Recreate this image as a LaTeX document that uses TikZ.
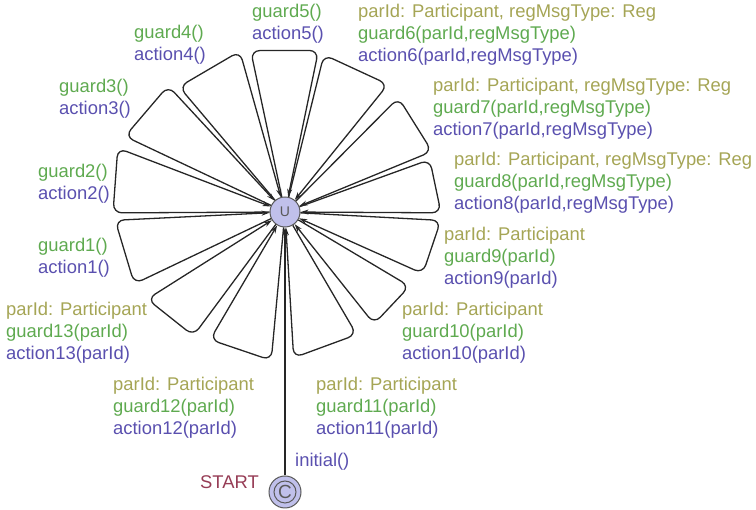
\documentclass[tikz,border=0pt]{standalone}
\usepackage{fontspec}
\setmainfont{Liberation Sans}
\usetikzlibrary{calc,arrows.meta}
\definecolor{selcol}{RGB}{165,165,85}
\definecolor{grdcol}{RGB}{95,170,80}
\definecolor{actcol}{RGB}{90,80,175}
\definecolor{startcol}{RGB}{150,60,85}
\definecolor{locfill}{RGB}{192,192,235}
\tikzset{
  loc/.style={circle, draw=black!65, fill=locfill, minimum size=30pt, inner sep=0pt, line width=1pt, text=black!65, font=\fontsize{14}{14}\selectfont},
  lbl/.style={anchor=west, align=left, inner sep=0pt, font=\fontsize{18.4}{22}\selectfont},
  edge/.style={draw=black!85, line width=1.3pt, rounded corners=9pt, -{Stealth[length=8pt,width=5pt]}},
}
\newcommand{\sel}[1]{\textcolor{selcol}{#1}}
\newcommand{\grd}[1]{\textcolor{grdcol}{#1}}
\newcommand{\act}[1]{\textcolor{actcol}{#1}}
\begin{document}
\begin{tikzpicture}[x=1pt,y=1pt]
\useasboundingbox (0,0) rectangle (756,510);
% locations
\node[loc] (c) at (285,298) {U};
\node[loc, minimum size=32pt, font=\fontsize{19}{19}\selectfont] (s) at (285,18) {C};
\draw[draw=black!65, line width=1pt] (s.center) circle (11pt);
% loops
\coordinate (cc) at (285,298);
\foreach \a/\ra/\b/\rb in {
  102/165/78.3/165,
  130.2/164/105.7/167,
  154.7/177/132.8/172,
  180.3/172/159.1/179,
  205.5/167/182.8/170,
  233.5/154/212.3/163,
  264.7/149/239.6/148,
  -59.7/142/-86.6/146,
  -30.8/145/-51.5/143,
  -3.1/156/-24.1/151,
  19.9/154/-0.3/156,
  45.2/161/22.4/159,
  76.1/162/51.1/164} {
  \draw[edge] (c) -- ($(cc)+(\a:\ra)$) -- ($(cc)+(\b:\rb)$) -- (c);
}
% initial edge
\draw[edge] (s) -- (c);
% labels
\node[lbl] (l5) at (252,486) {\grd{guard5()}\\\act{action5()}};
\node[lbl] (l4) at (134,465) {\grd{guard4()}\\\act{action4()}};
\node[lbl] (l3) at (59,411) {\grd{guard3()}\\\act{action3()}};
\node[lbl] (l2) at (38,326) {\grd{guard2()}\\\act{action2()}};
\node[lbl] (l1) at (38,252) {\grd{guard1()}\\\act{action1()}};
\node[lbl] (l13) at (6,177) {\sel{parId: Participant}\\\grd{guard13(parId)}\\\act{action13(parId)}};
\node[lbl] (l12) at (113,102) {\sel{parId: Participant}\\\grd{guard12(parId)}\\\act{action12(parId)}};
\node[lbl] (l11) at (316,102) {\sel{parId: Participant}\\\grd{guard11(parId)}\\\act{action11(parId)}};
\node[lbl] (l10) at (402,177) {\sel{parId: Participant}\\\grd{guard10(parId)}\\\act{action10(parId)}};
\node[lbl] (l9) at (444,252) {\sel{parId: Participant}\\\grd{guard9(parId)}\\\act{action9(parId)}};
\node[lbl] (l8) at (454,327) {\sel{parId: Participant, regMsgType: Reg}\\\grd{guard8(parId,regMsgType)}\\\act{action8(parId,regMsgType)}};
\node[lbl] (l7) at (433,401) {\sel{parId: Participant, regMsgType: Reg}\\\grd{guard7(parId,regMsgType)}\\\act{action7(parId,regMsgType)}};
\node[lbl] (l6) at (358,475) {\sel{parId: Participant, regMsgType: Reg}\\\grd{guard6(parId,regMsgType)}\\\act{action6(parId,regMsgType)}};
\node[lbl] (init) at (295,48) {\act{initial()}};
\node[lbl, anchor=east, text=startcol] (startlbl) at (259,28) {START};
\end{tikzpicture}
\end{document}
